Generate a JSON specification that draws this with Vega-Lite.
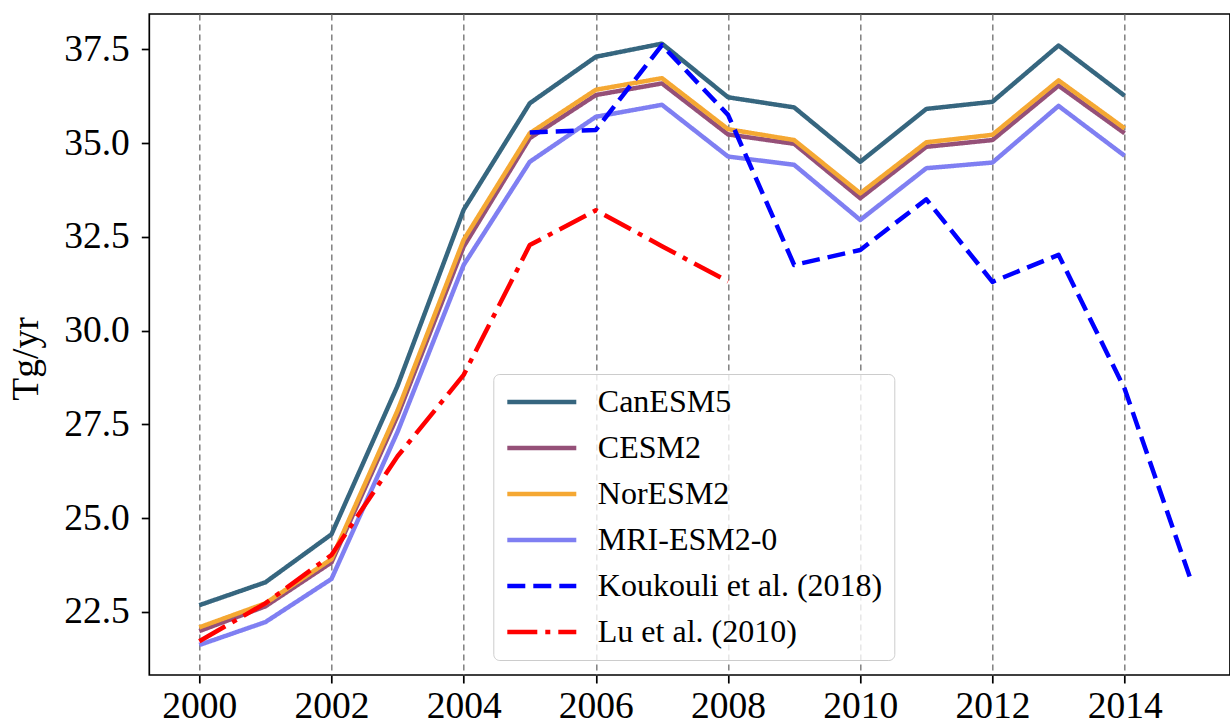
{
  "$schema": "https://vega.github.io/schema/vega-lite/v6.json",
  "autosize": {"type": "none"},
  "padding": {"left": 149.3, "top": 14, "right": 0, "bottom": 48},
  "width": 1080.7,
  "height": 661,
  "background": "white",
  "config": {
    "view": {"stroke": "black", "strokeWidth": 1.7},
    "font": "Liberation Serif",
    "legend": {
      "orient": "none",
      "legendX": 344,
      "legendY": 360,
      "title": null,
      "symbolType": "M-3,0H3",
      "symbolSize": 529,
      "symbolOffset": 20.5,
      "symbolStrokeWidth": 4.5,
      "labelFont": "Liberation Serif",
      "labelFontSize": 32,
      "labelColor": "black",
      "labelLimit": 0,
      "labelOffset": 40,
      "rowPadding": 14,
      "padding": 12,
      "strokeColor": "#cccccc",
      "fillColor": "rgba(255,255,255,0.8)",
      "cornerRadius": 6
    }
  },
  "data": {
    "values": [
      {"year": 2000, "value": 22.68, "series": "CanESM5"},
      {"year": 2001, "value": 23.29, "series": "CanESM5"},
      {"year": 2002, "value": 24.57, "series": "CanESM5"},
      {"year": 2003, "value": 28.53, "series": "CanESM5"},
      {"year": 2004, "value": 33.22, "series": "CanESM5"},
      {"year": 2005, "value": 36.06, "series": "CanESM5"},
      {"year": 2006, "value": 37.30, "series": "CanESM5"},
      {"year": 2007, "value": 37.65, "series": "CanESM5"},
      {"year": 2008, "value": 36.22, "series": "CanESM5"},
      {"year": 2009, "value": 35.95, "series": "CanESM5"},
      {"year": 2010, "value": 34.50, "series": "CanESM5"},
      {"year": 2011, "value": 35.91, "series": "CanESM5"},
      {"year": 2012, "value": 36.10, "series": "CanESM5"},
      {"year": 2013, "value": 37.60, "series": "CanESM5"},
      {"year": 2014, "value": 36.26, "series": "CanESM5"},
      {"year": 2000, "value": 21.99, "series": "CESM2"},
      {"year": 2001, "value": 22.65, "series": "CESM2"},
      {"year": 2002, "value": 23.82, "series": "CESM2"},
      {"year": 2003, "value": 27.73, "series": "CESM2"},
      {"year": 2004, "value": 32.24, "series": "CESM2"},
      {"year": 2005, "value": 35.13, "series": "CESM2"},
      {"year": 2006, "value": 36.28, "series": "CESM2"},
      {"year": 2007, "value": 36.59, "series": "CESM2"},
      {"year": 2008, "value": 35.23, "series": "CESM2"},
      {"year": 2009, "value": 34.98, "series": "CESM2"},
      {"year": 2010, "value": 33.53, "series": "CESM2"},
      {"year": 2011, "value": 34.90, "series": "CESM2"},
      {"year": 2012, "value": 35.08, "series": "CESM2"},
      {"year": 2013, "value": 36.53, "series": "CESM2"},
      {"year": 2014, "value": 35.26, "series": "CESM2"},
      {"year": 2000, "value": 22.09, "series": "NorESM2"},
      {"year": 2001, "value": 22.73, "series": "NorESM2"},
      {"year": 2002, "value": 23.91, "series": "NorESM2"},
      {"year": 2003, "value": 27.87, "series": "NorESM2"},
      {"year": 2004, "value": 32.42, "series": "NorESM2"},
      {"year": 2005, "value": 35.26, "series": "NorESM2"},
      {"year": 2006, "value": 36.42, "series": "NorESM2"},
      {"year": 2007, "value": 36.73, "series": "NorESM2"},
      {"year": 2008, "value": 35.37, "series": "NorESM2"},
      {"year": 2009, "value": 35.08, "series": "NorESM2"},
      {"year": 2010, "value": 33.66, "series": "NorESM2"},
      {"year": 2011, "value": 35.02, "series": "NorESM2"},
      {"year": 2012, "value": 35.22, "series": "NorESM2"},
      {"year": 2013, "value": 36.67, "series": "NorESM2"},
      {"year": 2014, "value": 35.39, "series": "NorESM2"},
      {"year": 2000, "value": 21.62, "series": "MRI-ESM2-0"},
      {"year": 2001, "value": 22.23, "series": "MRI-ESM2-0"},
      {"year": 2002, "value": 23.38, "series": "MRI-ESM2-0"},
      {"year": 2003, "value": 27.30, "series": "MRI-ESM2-0"},
      {"year": 2004, "value": 31.75, "series": "MRI-ESM2-0"},
      {"year": 2005, "value": 34.50, "series": "MRI-ESM2-0"},
      {"year": 2006, "value": 35.70, "series": "MRI-ESM2-0"},
      {"year": 2007, "value": 36.02, "series": "MRI-ESM2-0"},
      {"year": 2008, "value": 34.64, "series": "MRI-ESM2-0"},
      {"year": 2009, "value": 34.42, "series": "MRI-ESM2-0"},
      {"year": 2010, "value": 32.95, "series": "MRI-ESM2-0"},
      {"year": 2011, "value": 34.33, "series": "MRI-ESM2-0"},
      {"year": 2012, "value": 34.48, "series": "MRI-ESM2-0"},
      {"year": 2013, "value": 35.99, "series": "MRI-ESM2-0"},
      {"year": 2014, "value": 34.66, "series": "MRI-ESM2-0"},
      {"year": 2005, "value": 35.28, "series": "Koukouli et al. (2018)"},
      {"year": 2006, "value": 35.35, "series": "Koukouli et al. (2018)"},
      {"year": 2007, "value": 37.61, "series": "Koukouli et al. (2018)"},
      {"year": 2008, "value": 35.75, "series": "Koukouli et al. (2018)"},
      {"year": 2009, "value": 31.75, "series": "Koukouli et al. (2018)"},
      {"year": 2010, "value": 32.15, "series": "Koukouli et al. (2018)"},
      {"year": 2011, "value": 33.50, "series": "Koukouli et al. (2018)"},
      {"year": 2012, "value": 31.30, "series": "Koukouli et al. (2018)"},
      {"year": 2013, "value": 32.02, "series": "Koukouli et al. (2018)"},
      {"year": 2014, "value": 28.45, "series": "Koukouli et al. (2018)"},
      {"year": 2015, "value": 23.36, "series": "Koukouli et al. (2018)"},
      {"year": 2000, "value": 21.72, "series": "Lu et al. (2010)"},
      {"year": 2001, "value": 22.73, "series": "Lu et al. (2010)"},
      {"year": 2002, "value": 24.02, "series": "Lu et al. (2010)"},
      {"year": 2003, "value": 26.65, "series": "Lu et al. (2010)"},
      {"year": 2004, "value": 28.82, "series": "Lu et al. (2010)"},
      {"year": 2005, "value": 32.28, "series": "Lu et al. (2010)"},
      {"year": 2006, "value": 33.21, "series": "Lu et al. (2010)"},
      {"year": 2007, "value": 32.25, "series": "Lu et al. (2010)"},
      {"year": 2008, "value": 31.31, "series": "Lu et al. (2010)"}
    ]
  },
  "mark": {"type": "line", "strokeWidth": 4.5, "strokeJoin": "round", "clip": true},
  "encoding": {
    "x": {
      "field": "year",
      "type": "quantitative",
      "scale": {"domain": [1999.244, 2015.594], "nice": false, "zero": false},
      "axis": {
        "title": null,
        "values": [2000, 2002, 2004, 2006, 2008, 2010, 2012, 2014],
        "format": "d",
        "labelFont": "Liberation Serif",
        "labelFontSize": 37.5,
        "labelColor": "black",
        "labelPadding": 4,
        "labelFlush": false,
        "labelOverlap": false,
        "tickColor": "black",
        "tickSize": 8,
        "tickWidth": 1.7,
        "domain": false,
        "grid": true,
        "gridColor": "#808080",
        "gridDash": [6, 4],
        "gridWidth": 1.5,
        "gridOpacity": 1
      }
    },
    "y": {
      "field": "value",
      "type": "quantitative",
      "scale": {"domain": [20.82, 38.44], "nice": false, "zero": false},
      "axis": {
        "title": "Tg/yr",
        "values": [22.5, 25, 27.5, 30, 32.5, 35, 37.5],
        "format": ".1f",
        "labelFont": "Liberation Serif",
        "labelFontSize": 37.5,
        "labelColor": "black",
        "labelPadding": 12,
        "tickColor": "black",
        "tickSize": 8,
        "tickWidth": 1.7,
        "domain": false,
        "grid": false,
        "titleFont": "Liberation Serif",
        "titleFontSize": 37.5,
        "titleFontWeight": "normal",
        "titleColor": "black",
        "titleAngle": -90,
        "titleX": -123,
        "titleY": 344.5,
        "titleBaseline": "middle",
        "titleAlign": "center"
      }
    },
    "color": {
      "field": "series",
      "type": "nominal",
      "scale": {
        "domain": ["CanESM5", "CESM2", "NorESM2", "MRI-ESM2-0", "Koukouli et al. (2018)", "Lu et al. (2010)"],
        "range": ["#36667f", "#955078", "#f5a833", "#7f7ff2", "#0000ff", "#ff0000"]
      }
    },
    "strokeDash": {
      "field": "series",
      "type": "nominal",
      "scale": {
        "domain": ["CanESM5", "CESM2", "NorESM2", "MRI-ESM2-0", "Koukouli et al. (2018)", "Lu et al. (2010)"],
        "range": [[1, 0], [1, 0], [1, 0], [1, 0], [18, 8], [30, 8, 5, 8]]
      }
    }
  }
}
